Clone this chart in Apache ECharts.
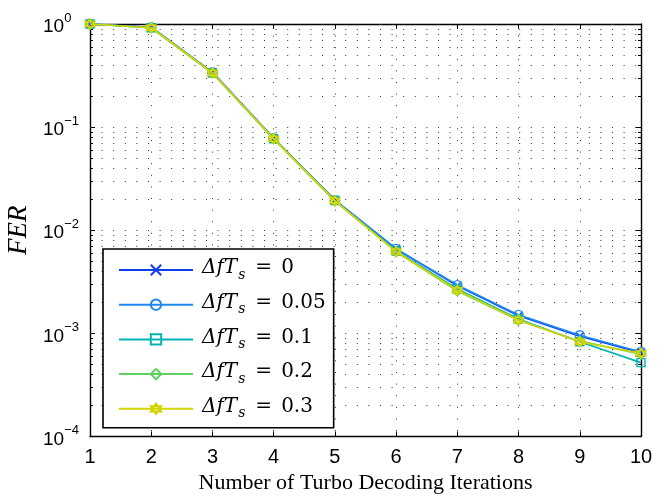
<!DOCTYPE html>
<html><head><meta charset="utf-8">
<script src="https://cdn.jsdelivr.net/npm/echarts@6/dist/echarts.min.js"></script>
<style>html,body{margin:0;padding:0;background:#fff}#c{width:672px;height:503px}</style>
</head><body><div id="c"></div>
<script>
// ---- data ----
const iterations = [1, 2, 3, 4, 5, 6, 7, 8, 9, 10];
const offsets = ['0', '0.05', '0.1', '0.2', '0.3'];
const fer_0    = [1.0, 0.93, 0.34, 0.078, 0.0196, 0.0066, 0.0029, 0.00148, 0.00094, 0.00065];
const fer_005  = [1.0, 0.93, 0.34, 0.078, 0.0196, 0.0066, 0.00294, 0.00151, 0.00096, 0.00066];
const fer_01   = [1.0, 0.92, 0.335, 0.077, 0.0194, 0.0063, 0.0027, 0.00138, 0.00083, 0.00052];
const fer_02   = [1.0, 0.92, 0.335, 0.077, 0.0193, 0.0062, 0.00258, 0.00134, 0.00084, 0.00063];
const fer_03   = [1.0, 0.92, 0.335, 0.077, 0.0193, 0.0062, 0.00262, 0.00135, 0.00083, 0.00064];
const yTickExponents = [-4, -3, -2, -1, 0];
const xTicks = [1, 2, 3, 4, 5, 6, 7, 8, 9, 10];

const seriesValues = [fer_0, fer_005, fer_01, fer_02, fer_03];
const colors = ['#0d3ef0', '#1e88f0', '#00b4b4', '#5fcf5f', '#d4d400'];
const symbols = [
  'path://M0,0L10,10M0,10L10,0',
  'circle',
  'rect',
  'diamond',
  'path://M5,0L9.33,7.5L0.67,7.5ZM5,10L0.67,2.5L9.33,2.5Z'
];
const symbolSizes = [8, 9, 8, 10, 10];

// minor grid values (2..9 x 10^e) and major decades
const gridData = [];
for (let k = 0; k < yTickExponents.length; k++) {
  const e = yTickExponents[k];
  if (e < 0) {
    for (let m = 2; m <= 9; m++) gridData.push([1, m * Math.pow(10, e), 0]);
  }
  if (e > -4 && e < 0) gridData.push([1, Math.pow(10, e), 1]);
}

const chart = echarts.init(document.getElementById('c'), null, {renderer: 'canvas'});
const dotted = [1, 10.6];
const gridColor = '#333';

const lineSeries = seriesValues.map((vals, i) => ({
  type: 'line',
  name: offsets[i],
  xAxisIndex: 0, yAxisIndex: 0,
  data: iterations.map((x, j) => [x, vals[j]]),
  symbol: symbols[i],
  symbolSize: symbolSizes[i],
  showAllSymbol: true,
  color: colors[i],
  lineStyle: {color: colors[i], width: 1.7},
  itemStyle: {color: 'transparent', borderColor: colors[i], borderWidth: 1.4},
  emphasis: {disabled: true},
  z: 3 + i
}));

const mathFont = 'DejaVu Serif';
const option = {
  animation: false,
  backgroundColor: '#fff',
  grid: {left: 90, right: 31, top: 24, bottom: 66.5, containLabel: false, outerBoundsMode: 'none'},
  legend: {
    orient: 'vertical', left: 103, top: 249,
    padding: [9, 8, 7, 15], itemGap: 10.7, itemWidth: 74, itemHeight: 13,
    backgroundColor: '#fff', borderColor: '#000', borderWidth: 1.6, borderRadius: 0,
    selectedMode: false,
    data: offsets,
    formatter: n => '{i|ΔfT}{s|s}{q|=}{n|' + n + '}',
    textStyle: {
      padding: [0, 0, 0, 4],
      rich: {
        i: {fontFamily: mathFont, fontStyle: 'italic', fontSize: 20, color: '#000', lineHeight: 24, verticalAlign: 'top'},
        s: {fontFamily: mathFont, fontStyle: 'italic', fontSize: 14, color: '#000', lineHeight: 10, verticalAlign: 'bottom', padding: [0, 0, 0, 1]},
        q: {fontFamily: mathFont, fontSize: 20, color: '#000', lineHeight: 24, verticalAlign: 'top', padding: [0, 9, 0, 10]},
        n: {fontFamily: mathFont, fontSize: 20, color: '#000', lineHeight: 24, verticalAlign: 'top'}
      }
    },
    z: 10
  },
  xAxis: [{
    type: 'value', min: 1, max: 10, interval: 1, position: 'bottom',
    axisLine: {show: true, onZero: false, lineStyle: {color: '#000', width: 1.4}},
    axisTick: {show: true, inside: true, length: 5, lineStyle: {color: '#000', width: 1}},
    axisLabel: {show: true, margin: 11, fontFamily: 'Liberation Sans', fontSize: 20, color: '#000'},
    splitLine: {show: true, lineStyle: {color: gridColor, width: 1, type: dotted}},
    name: 'Number of Turbo Decoding Iterations', nameLocation: 'middle', nameGap: 31,
    nameTextStyle: {fontFamily: 'Liberation Serif', fontSize: 22, color: '#000'}
  }, {
    type: 'value', min: 1, max: 10, interval: 1, position: 'top',
    axisLine: {show: true, onZero: false, lineStyle: {color: '#000', width: 1.4}},
    axisTick: {show: true, inside: true, length: 5, lineStyle: {color: '#000', width: 1}},
    axisLabel: {show: false}, splitLine: {show: false}
  }],
  yAxis: [{
    type: 'log', logBase: 10, min: 1e-4, max: 1, position: 'left',
    axisLine: {show: true, onZero: false, lineStyle: {color: '#000', width: 1.4}},
    axisTick: {show: true, inside: true, length: 5, lineStyle: {color: '#000', width: 1}},
    axisLabel: {
      show: true, align: 'left', margin: 47,
      formatter: v => {
        const e = Math.round(Math.log10(v));
        return '{b|10}{e|' + (e < 0 ? '\u2212' + (-e) : e) + '}';
      },
      rich: {
        b: {fontFamily: 'Liberation Sans', fontSize: 19, color: '#000', lineHeight: 25, verticalAlign: 'bottom'},
        e: {fontFamily: 'Liberation Sans', fontSize: 13, color: '#000', lineHeight: 12, verticalAlign: 'top'}
      }
    },
    splitLine: {show: false},
    name: 'FER', nameLocation: 'middle', nameGap: 53,
    nameTextStyle: {fontFamily: 'Liberation Serif', fontStyle: 'italic', fontSize: 27, color: '#000'}
  }, {
    type: 'log', logBase: 10, min: 1e-4, max: 1, position: 'right',
    axisLine: {show: true, onZero: false, lineStyle: {color: '#000', width: 1.4}},
    axisTick: {show: true, inside: true, length: 5, lineStyle: {color: '#000', width: 1}},
    axisLabel: {show: false}, splitLine: {show: false}
  }],
  series: [{
    type: 'custom',
    name: 'grid',
    xAxisIndex: 0, yAxisIndex: 0,
    data: gridData,
    encode: {x: 0, y: 1},
    silent: true,
    z: 1,
    clip: false,
    renderItem: (params, api) => {
      const p = api.coord([api.value(0), api.value(1)]);
      const cs = params.coordSys;
      const y = Math.round(p[1]) + 0.5;
      const major = api.value(2) === 1;
      const children = [{
        type: 'line', silent: true,
        shape: {x1: cs.x, y1: y, x2: cs.x + cs.width, y2: y},
        style: {stroke: gridColor, lineWidth: 1, lineDash: dotted}
      }];
      if (!major) {
        children.push({type: 'line', silent: true, shape: {x1: cs.x, y1: y, x2: cs.x + 3, y2: y}, style: {stroke: '#000', lineWidth: 1}});
        children.push({type: 'line', silent: true, shape: {x1: cs.x + cs.width - 3, y1: y, x2: cs.x + cs.width, y2: y}, style: {stroke: '#000', lineWidth: 1}});
      }
      return {type: 'group', children: children};
    }
  }].concat(lineSeries)
};
chart.setOption(option);
</script>
</body></html>
